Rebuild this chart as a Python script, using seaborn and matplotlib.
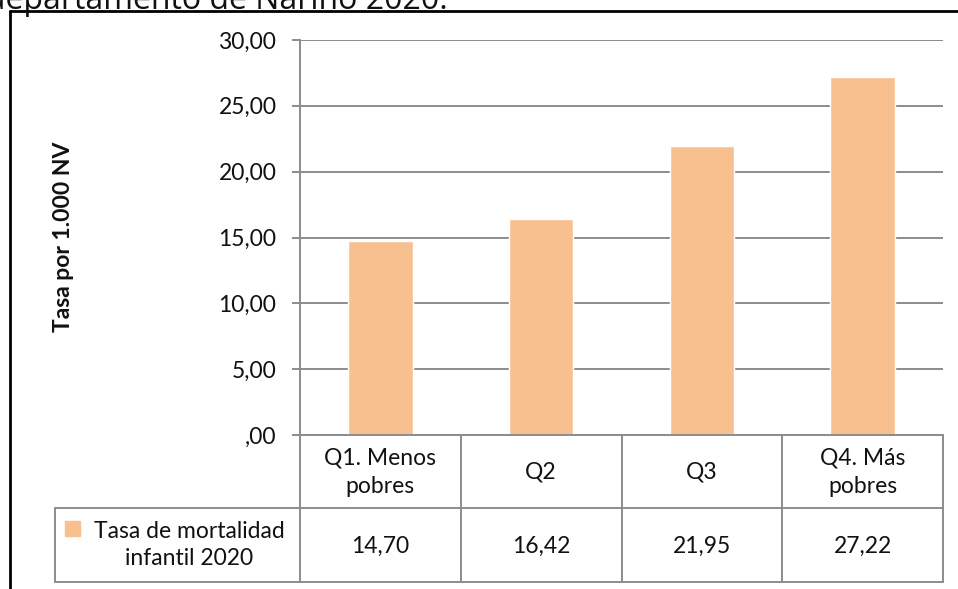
import matplotlib
matplotlib.use("Agg")
import matplotlib.pyplot as plt
import matplotlib.transforms as mtransforms
from matplotlib.lines import Line2D
from matplotlib.patches import Rectangle
import seaborn as sns

categories = ["Q1. Menos\npobres", "Q2", "Q3", "Q4. Más\npobres"]
values = [14.70, 16.42, 21.95, 27.22]
series_name = "Tasa de mortalidad\ninfantil 2020"
y_ticks = [0, 5, 10, 15, 20, 25, 30]
y_label = "Tasa por 1.000 NV"
caption = "departamento de Nariño 2020."

BAR = "#F9C08F"
GRID = "#8C8C8C"
W, H = 958, 589
FS = 16.5


def fmt(v):
    s = f"{v:.2f}".replace(".", ",")
    return s[1:] if s.startswith("0,") else s


sns.set_style("white")
plt.rcParams["font.family"] = ["Lato", "DejaVu Sans"]

fig = plt.figure(figsize=(W / 100, H / 100), dpi=100)
ax = fig.add_axes([300 / W, (H - 435) / H, 643 / W, 395 / H])

sns.barplot(x=list(range(len(values))), y=values, color=BAR, width=0.4,
            saturation=1, ax=ax, zorder=3)
ax.set_xlim(-0.5, len(values) - 0.5)
ax.set_ylim(0, 30)
ax.set_yticks(y_ticks)
ax.set_yticklabels([fmt(v) for v in y_ticks], fontsize=FS, color="#111111")
ax.set_xticks([])
ax.set_xlabel("")
ax.yaxis.grid(True, color=GRID, lw=1.4, zorder=0)
ax.set_axisbelow(True)
for s in ["top", "right", "bottom"]:
    ax.spines[s].set_visible(False)
ax.spines["left"].set_color(GRID)
ax.spines["left"].set_linewidth(1.4)
ax.tick_params(axis="y", left=True, length=6, width=1.4, color=GRID, pad=11)
ax.set_ylabel("")
fig.text(63 / W, 1 - 237 / H, y_label, rotation=90, ha="center", va="center",
         fontsize=16.5, fontweight="bold", color="#111111")

# data table under the axis
tr = mtransforms.blended_transform_factory(ax.transData, fig.transFigure)
def fy(p):
    return 1 - p / H

n = len(values)
line_kw = dict(color=GRID, lw=1.4, clip_on=False)
for xb in [i - 0.5 for i in range(n + 1)]:
    fig.add_artist(Line2D([xb, xb], [fy(435), fy(582)], transform=tr, **line_kw))
fig.add_artist(Line2D([-0.5, n - 0.5], [fy(435), fy(435)], transform=tr, **line_kw))
for yy in [508, 582]:
    fig.add_artist(Line2D([55 / W, 943 / W], [fy(yy), fy(yy)],
                          transform=fig.transFigure, **line_kw))
fig.add_artist(Line2D([55 / W, 55 / W], [fy(508), fy(582)],
                      transform=fig.transFigure, **line_kw))

for i, (c, v) in enumerate(zip(categories, values)):
    fig.text(i, fy(472), c, transform=tr, ha="center", va="center",
             fontsize=FS, linespacing=1.45, color="#111111")
    fig.text(i, fy(546), fmt(v), transform=tr, ha="center", va="center",
             fontsize=FS, color="#111111")

fig.add_artist(Rectangle((65 / W, fy(536)), 15 / W, 15 / H, color=BAR,
                         transform=fig.transFigure))
fig.text(189 / W, fy(545), series_name, ha="center", va="center",
         fontsize=FS, linespacing=1.4, color="#111111")

# outer frame and clipped caption
fig.add_artist(Line2D([10 / W, 1.01], [fy(11), fy(11)], color="black", lw=2,
                      transform=fig.transFigure))
fig.add_artist(Line2D([10 / W, 10 / W], [fy(11), -0.01], color="black", lw=2,
                      transform=fig.transFigure))
fig.text(448 / W, fy(9), caption, ha="right", va="baseline",
         fontsize=23, family=["Open Sans", "DejaVu Sans"], color="#111111")

fig.savefig("out.png", dpi=100)
